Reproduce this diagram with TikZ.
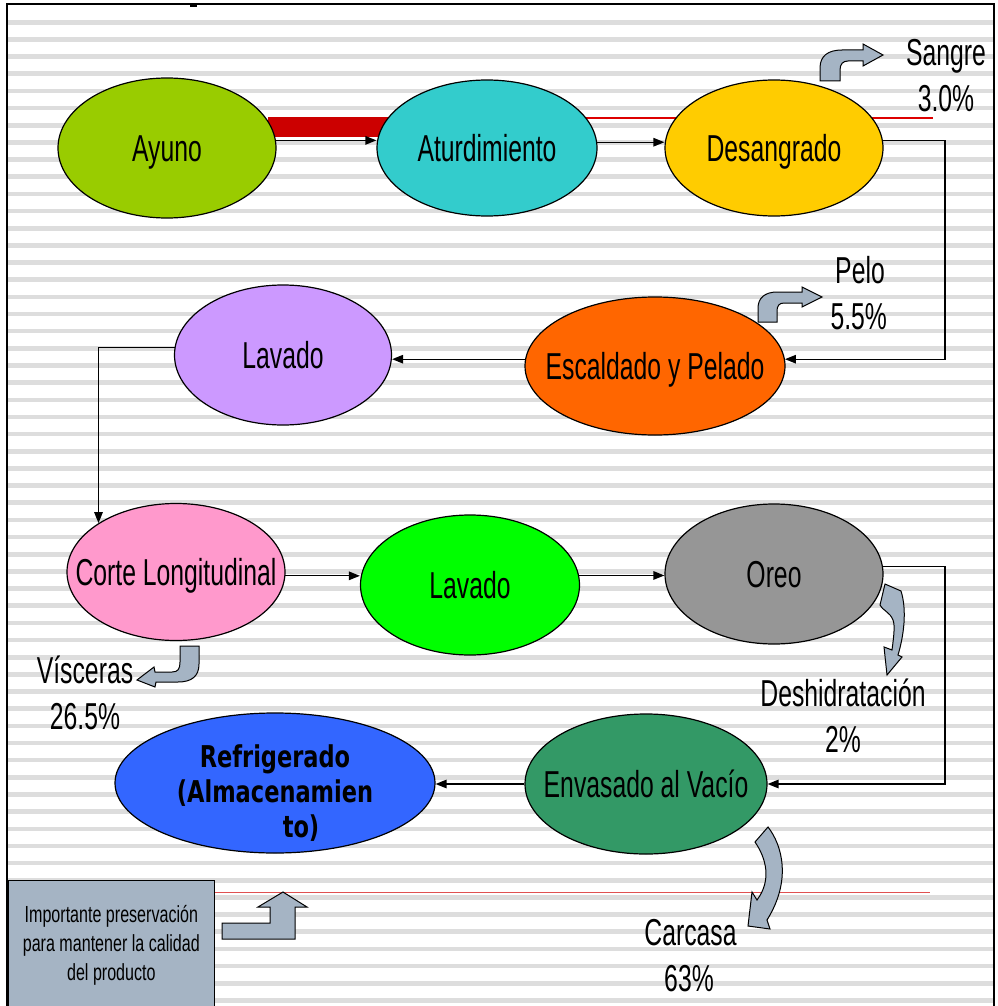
\documentclass[tikz,border=0pt]{standalone}
\usepackage{fontspec}
\setmainfont{Liberation Sans}[FakeStretch=0.66]
\newfontfamily\boxfont{Liberation Sans}[FakeStretch=0.69]
\newfontfamily\reffont{DejaVu Sans}[FakeStretch=0.75]
\usetikzlibrary{shapes.geometric,arrows.meta}
\definecolor{stripec}{HTML}{DDDDDD}
\definecolor{cAyuno}{HTML}{99CC00}
\definecolor{cAtur}{HTML}{33CCCC}
\definecolor{cDes}{HTML}{FFCC00}
\definecolor{cEsc}{HTML}{FF6600}
\definecolor{cLavA}{HTML}{CC99FF}
\definecolor{cCorte}{HTML}{FF99CC}
\definecolor{cLavB}{HTML}{00FF00}
\definecolor{cOreo}{HTML}{969696}
\definecolor{cEnv}{HTML}{339966}
\definecolor{cRef}{HTML}{3366FF}
\definecolor{blockc}{HTML}{A5B4C4}
\definecolor{redbar}{HTML}{CC0000}
\definecolor{redthin}{HTML}{DD0000}
\definecolor{redlight}{HTML}{E05050}
\begin{document}
\begin{tikzpicture}[x=1pt,y=-1pt,
  proc/.style={ellipse, draw=black, line width=1.2pt, inner sep=0pt},
  ptext/.style={font=\fontsize{37.5}{44}\selectfont, text height=27pt, text depth=0pt, inner sep=0pt},
  conn/.style={draw=black, line width=1.3pt, -{Triangle[length=11pt,width=8.5pt]}},
  blk/.style={fill=blockc, draw=black, line width=1pt, line join=miter},
  lab/.style={font=\fontsize{37.5}{44}\selectfont, anchor=base, inner sep=0pt}]
\useasboundingbox (0,0) rectangle (997,1006);
\fill[white] (0,0) rectangle (997,1006);
% background stripes
\foreach \i in {0,...,57}{
  \pgfmathsetmacro\yy{22.3+17.16*\i}
  \fill[stripec] (8,{\yy-2.3}) rectangle (993,{\yy+2.3});
}
% frame
\draw[line width=1.3pt] (7,1010) -- (7,4) -- (994,4) -- (994,1010);
\fill[black] (190,3.5) rectangle (197,7);
% red lines
\draw[redthin, line width=1.2pt] (268,118) -- (933,118);
\fill[redbar] (268,117.5) rectangle (392,137);
\draw[redlight, line width=1.2pt] (215,892.5) -- (930,892.5);

% process nodes
\node[proc, fill=cAyuno, minimum width=218pt, minimum height=140pt,
  label={[ptext]center:Ayuno}] (ayuno) at (167,148) {};
\node[proc, fill=cAtur, minimum width=220pt, minimum height=136pt,
  label={[ptext]center:Aturdimiento}] (atur) at (487,148) {};
\node[proc, fill=cDes, minimum width=218pt, minimum height=136pt,
  label={[ptext]center:Desangrado}] (des) at (774,148) {};
\node[proc, fill=cEsc, minimum width=260pt, minimum height=138pt,
  label={[ptext]center:Escaldado y Pelado}] (esc) at (655,366) {};
\node[proc, fill=cLavA, minimum width=217pt, minimum height=140pt,
  label={[ptext]center:Lavado}] (lava) at (283,355) {};
\node[proc, fill=cCorte, minimum width=218pt, minimum height=137pt,
  label={[ptext]center:Corte Longitudinal}] (corte) at (176,572) {};
\node[proc, fill=cLavB, minimum width=219pt, minimum height=140pt,
  label={[ptext]center:Lavado}] (lavb) at (470,585) {};
\node[proc, fill=cOreo, minimum width=218pt, minimum height=140pt,
  label={[ptext]center:Oreo}] (oreo) at (774,574) {};
\node[proc, fill=cEnv, minimum width=242pt, minimum height=140pt,
  label={[ptext]center:Envasado al Vacío}] (env) at (646,784) {};
\node[proc, fill=cRef, minimum width=320pt, minimum height=140pt,
  label={[font=\reffont\bfseries\fontsize{30}{35}\selectfont, align=center, inner sep=0pt, yshift=-10pt]center:Refrigerado\\(Almacenamien\\\hspace*{52pt}to)}] (refr) at (275,783) {};

% connectors
\draw[conn] (ayuno.4) -- (ayuno.4 -| atur.west);
\draw[conn] (atur.3) -- (atur.3 -| des.west);
\draw[conn] (des.4) -- ++(62,0) |- (esc.3);
\draw[conn] (esc.177) -- (esc.177 -| lava.east);
\draw[conn] (lava.176) -| (corte.north west);
\draw[conn] (corte.-2) -- (corte.-2 -| lavb.west);
\draw[conn] (lavb.5) -- (lavb.5 -| oreo.west);
\draw[conn] (oreo.4) -- ++(62,0) |- (env.east);
\draw[conn] (env.west) -- (env.west -| refr.east);

% block arrows
\draw[blk] (820,81) -- (820,68) .. controls (820,56) and (828,50) .. (842,50) -- (863,50) -- (863,44) -- (883,55) -- (863,66) -- (863,61) -- (848,61) .. controls (843,61) and (840,64) .. (840,70) -- (840,81) -- cycle;
\draw[blk] (758,322) -- (758,308) .. controls (758,298) and (765,292) .. (777,292) -- (802,292) -- (802,287) -- (822,297) -- (802,307) -- (802,303) -- (784,303) .. controls (779,303) and (777,306) .. (777,311) -- (777,322) -- cycle;
\draw[blk] (180,646) -- (199,646) -- (199,664) .. controls (199,676) and (192,682) .. (178,682) -- (156,682) -- (155,687) -- (137,680) -- (154,667) -- (155,672) -- (172,672) .. controls (178,672) and (180,669) .. (180,662) -- cycle;
\draw[blk] (885,584) -- (901,591) .. controls (907,610) and (904,635) .. (898,655) -- (902,657) -- (887,675) -- (884,647) -- (892,650) .. controls (894,635) and (895,625) .. (893,620) .. controls (890,612) and (882,610) .. (880,605) -- cycle;
\draw[blk] (755,842) -- (768,827) .. controls (782,845) and (792,880) .. (767,920) -- (770,929) -- (748,926) -- (752,892) -- (757,900) .. controls (772,880) and (766,858) .. (755,842) -- cycle;
\draw[blk] (222,923) -- (270,923) -- (270,907) -- (258,907) -- (283,892) -- (307,907) -- (295,907) -- (295,939) -- (222,939) -- cycle;

% output labels
\node[lab] (sangre) at (946,65.7) {Sangre};
\node[lab] (sangrep) at (946,111.7) {3.0\%};
\node[lab] (pelo) at (860,283.3) {Pelo};
\node[lab] (pelop) at (858.7,329.3) {5.5\%};
\node[lab] (visc) at (85,683.3) {Vísceras};
\node[lab] (viscp) at (85,729.3) {26.5\%};
\node[lab] (desh) at (843,706.7) {Deshidratación};
\node[lab] (deshp) at (843,752.7) {2\%};
\node[lab] (carc) at (690.5,945) {Carcasa};
\node[lab] (carcp) at (689,991.7) {63\%};

% note box
\node[draw=black, line width=1.2pt, fill=blockc, anchor=north west, minimum width=206.5pt, minimum height=130pt, inner sep=0pt, align=center,
  font=\boxfont\fontsize{23.3}{29}\selectfont] (note) at (7.5,879.5)
  {Importante preservación\\para mantener la calidad\\del producto};
\end{tikzpicture}
\end{document}
